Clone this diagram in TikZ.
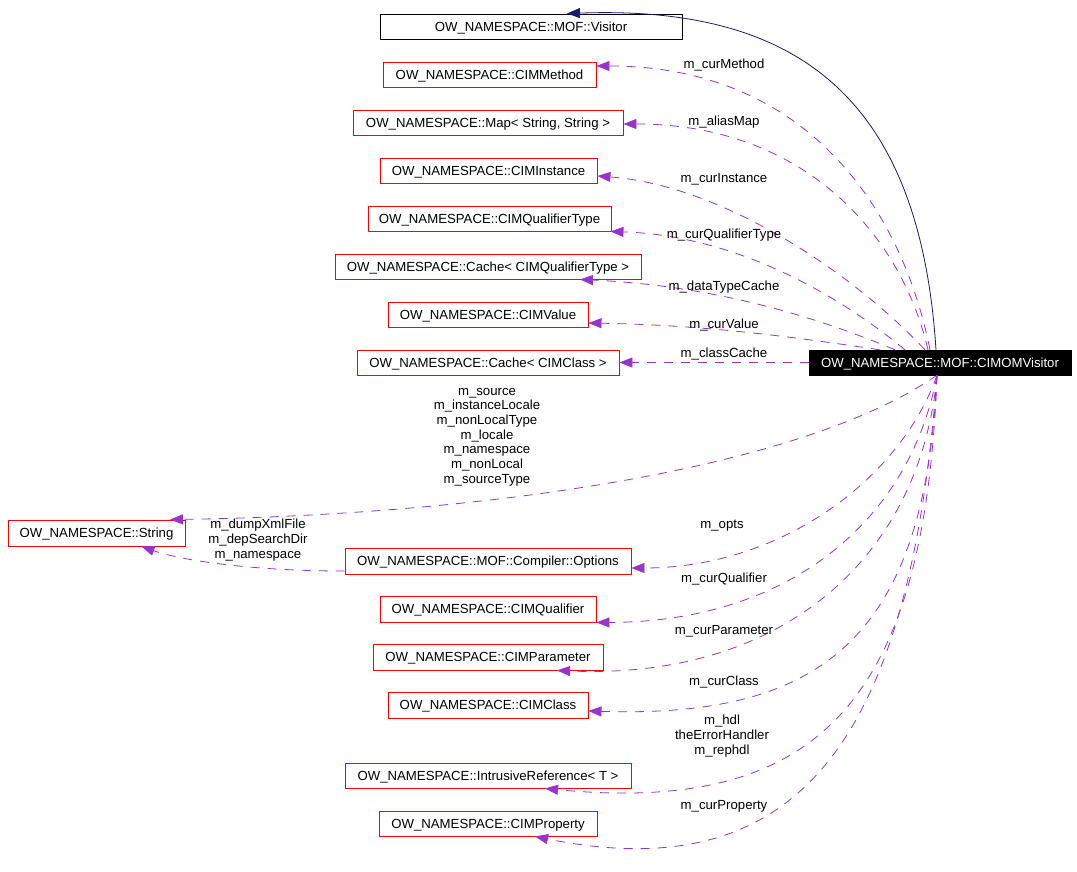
\documentclass[tikz,border=0pt]{standalone}
\usepackage{fontspec}
\setmainfont{Liberation Sans}
\usetikzlibrary{arrows.meta}
\definecolor{dep}{HTML}{9A32CD}
\definecolor{inh}{HTML}{191970}
\begin{document}
\begin{tikzpicture}[x=1pt,y=-1pt,
  every node/.style={font=\fontsize{13.2}{14.7}\selectfont},
  boxtext/.style={text height=9.5pt,text depth=0pt,inner sep=0pt,minimum height=25pt},
  cls/.style={boxtext,draw=red,line width=0.9pt,fill=white},
  base/.style={boxtext,draw=black,line width=0.9pt,fill=white},
  main/.style={boxtext,draw=black,fill=black,text=white},
  deplink/.style={draw=dep,line width=0.8pt,dash pattern=on 9pt off 8pt,-{Triangle[length=13pt,width=10pt]}},
  inhlink/.style={draw=inh,line width=0.8pt,-{Triangle[length=13pt,width=10pt]}},
  lbl/.style={align=center,inner sep=0pt}]
\useasboundingbox (0,0) rectangle (1077,871);
\fill[white] (0,0) rectangle (1077,871);

% nodes
\node[base,minimum width=302pt] (vis) at (531,26.5) {OW\_NAMESPACE::MOF::Visitor};
\node[cls,minimum width=213pt] (meth) at (489.5,74.5) {OW\_NAMESPACE::CIMMethod};
\node[cls,minimum width=270pt] (map) at (488,122.5) {OW\_NAMESPACE::Map< String, String >};
\node[cls,minimum width=217pt] (inst) at (488.5,170.5) {OW\_NAMESPACE::CIMInstance};
\node[cls,minimum width=243pt] (qtype) at (489.5,218.5) {OW\_NAMESPACE::CIMQualifierType};
\node[cls,minimum width=306pt] (cacheq) at (488,266.5) {OW\_NAMESPACE::Cache< CIMQualifierType >};
\node[cls,minimum width=200pt] (val) at (488,314.5) {OW\_NAMESPACE::CIMValue};
\node[cls,minimum width=262pt] (cachec) at (488,362.5) {OW\_NAMESPACE::Cache< CIMClass >};
\node[main,minimum width=262pt] (cimom) at (940,362.5) {OW\_NAMESPACE::MOF::CIMOMVisitor};
\node[cls,minimum width=177pt,minimum height=26pt] (str) at (96.5,533) {OW\_NAMESPACE::String};
\node[cls,minimum width=286pt,minimum height=26pt] (opts) at (488,561) {OW\_NAMESPACE::MOF::Compiler::Options};
\node[cls,minimum width=216pt,minimum height=26pt] (qual) at (488,609) {OW\_NAMESPACE::CIMQualifier};
\node[cls,minimum width=230pt,minimum height=26pt] (param) at (488,657) {OW\_NAMESPACE::CIMParameter};
\node[cls,minimum width=200pt,minimum height=26pt] (cl) at (488,705) {OW\_NAMESPACE::CIMClass};
\node[cls,minimum width=286pt] (intr) at (488,775.5) {OW\_NAMESPACE::IntrusiveReference< T >};
\node[cls,minimum width=218pt] (prop) at (488,823.5) {OW\_NAMESPACE::CIMProperty};

% inheritance
\draw[inhlink] ([xshift=-4pt]cimom.north) .. controls (920,100) and (800,5) .. ([xshift=36pt]vis.north);

% top dependencies
\draw[deplink] ([xshift=-10pt]cimom.north) .. controls (900,200) and (800,66) .. ([yshift=8.5pt]meth.east);
\draw[deplink] ([xshift=-12pt]cimom.north) .. controls (900,230) and (800,124) .. ([yshift=-1.5pt]map.east);
\draw[deplink] ([xshift=-15pt]cimom.north) .. controls (850,270) and (720,185) .. ([yshift=-5.5pt]inst.east);
\draw[deplink] ([xshift=-35pt]cimom.north) .. controls (820,280) and (720,235) .. ([xshift=-1pt]qtype.south east);
\draw[deplink] ([xshift=-45pt]cimom.north) .. controls (800,310) and (700,285) .. ([xshift=92pt]cacheq.south);
\draw[deplink] ([xshift=-60pt]cimom.north) .. controls (780,335) and (700,325) .. ([yshift=-8.5pt]val.east);
\draw[deplink] (cimom.west) -- (cachec.east);

% bottom dependencies
\draw[deplink] ([xshift=-3pt]cimom.south) .. controls (800,470) and (480,515) .. ([xshift=73.5pt]str.north);
\draw[deplink] ([xshift=-3pt]cimom.south) .. controls (900,480) and (780,568) .. ([yshift=-7pt]opts.east);
\draw[deplink] ([xshift=-3pt]cimom.south) .. controls (910,520) and (790,622) .. (qual.south east);
\draw[deplink] ([xshift=-3pt]cimom.south) .. controls (920,560) and (780,680) .. ([xshift=69pt]param.south);
\draw[deplink] ([xshift=-3pt]cimom.south) .. controls (925,640) and (820,718) .. ([yshift=-6pt]cl.east);
\draw[deplink] ([xshift=-3pt]cimom.south) .. controls (925,700) and (820,815) .. ([xshift=57pt]intr.south);
\draw[deplink] ([xshift=-3pt]cimom.south) .. controls (910,740) and (800,890) .. ([xshift=47pt]prop.south);
\draw[deplink] ([yshift=-10pt]opts.west) .. controls (250,571) and (180,560) .. ([xshift=45pt]str.south);

% labels
\node[lbl] (l1) at (724,65) {m\_curMethod};
\node[lbl] (l2) at (724,122) {m\_aliasMap};
\node[lbl] (l3) at (724,179) {m\_curInstance};
\node[lbl] (l4) at (724,235) {m\_curQualifierType};
\node[lbl] (l5) at (724,287) {m\_dataTypeCache};
\node[lbl] (l6) at (724,325) {m\_curValue};
\node[lbl] (l7) at (724,354) {m\_classCache};
\node[lbl] (l8) at (487,437) {m\_source\\m\_instanceLocale\\m\_nonLocalType\\m\_locale\\m\_namespace\\m\_nonLocal\\m\_sourceType};
\node[lbl] (l9) at (258,540) {m\_dumpXmlFile\\m\_depSearchDir\\m\_namespace};
\node[lbl] (l10) at (722,526) {m\_opts};
\node[lbl] (l11) at (724,579) {m\_curQualifier};
\node[lbl] (l12) at (724,631) {m\_curParameter};
\node[lbl] (l13) at (724,682) {m\_curClass};
\node[lbl] (l14) at (722,736) {m\_hdl\\theErrorHandler\\m\_rephdl};
\node[lbl] (l15) at (724,806) {m\_curProperty};
\end{tikzpicture}
\end{document}
